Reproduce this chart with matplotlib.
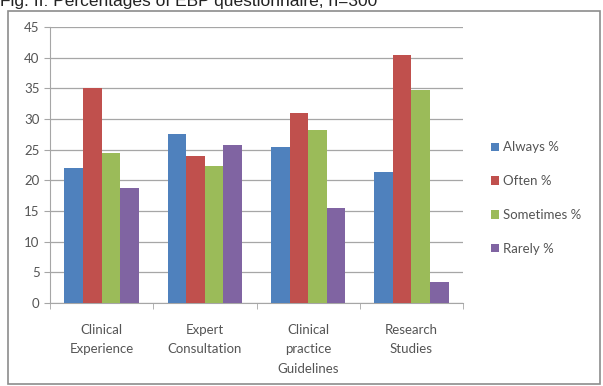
import numpy as np
import matplotlib
matplotlib.use("Agg")
import matplotlib.pyplot as plt
from matplotlib.patches import Rectangle

categories = ["Clinical\nExperience", "Expert\nConsultation", "Clinical\npractice\nGuidelines", "Research\nStudies"]
series = ["Always %", "Often %", "Sometimes %", "Rarely %"]
always = [22.0, 27.6, 25.5, 21.3]
often = [35.0, 24.0, 31.0, 40.4]
sometimes = [24.5, 22.4, 28.2, 34.7]
rarely = [18.7, 25.7, 15.5, 3.4]
colors = ["#4F81BD", "#C0504D", "#9BBB59", "#8064A2"]

plt.rcParams["font.family"] = ["Lato", "DejaVu Sans"]

fig = plt.figure(figsize=(6.03, 3.86), dpi=100)
W, H = 603, 386

# outer chart border
fig.patches.append(Rectangle((8 / W, 1 - 384 / H), 592 / W, 373 / H,
                             transform=fig.transFigure, fill=False,
                             edgecolor="#8c8c8c", linewidth=1.2))

# caption, cropped at the top like in the source image
fig.text(0, 1 - 6 / H, "Fig. II: Percentages of EBP questionnaire, n=300",
         family="Liberation Sans", fontsize=12.5, color="#222222", va="baseline")

ax = fig.add_axes([50 / W, 1 - 303 / H, 413 / W, 276 / H])

x = np.arange(len(categories))
w = 0.18
for i, (vals, name) in enumerate(zip([always, often, sometimes, rarely], series)):
    ax.bar(x + (i - 1.5) * w, vals, width=w, color=colors[i], label=name, zorder=3)

ax.set_xlim(-0.5, len(categories) - 0.5)
ax.set_ylim(0, 45)
ax.set_yticks(range(0, 46, 5))
ax.yaxis.grid(True, color="#a6a6a6", linewidth=0.9, zorder=0)
ax.set_xticks(x)
ax.set_xticklabels(categories, fontsize=9.5, color="#555555", linespacing=1.75)
ax.set_xticks(np.arange(len(categories) + 1) - 0.5, minor=True)
ax.tick_params(axis="x", which="major", length=0, pad=15)
ax.tick_params(axis="x", which="minor", length=4, color="#a6a6a6")
ax.tick_params(axis="y", length=4, color="#a6a6a6", labelsize=9.5, labelcolor="#555555")
for s in ["top", "right"]:
    ax.spines[s].set_visible(False)
ax.spines["left"].set_color("#a6a6a6")
ax.spines["bottom"].set_color("#a6a6a6")

ax.legend(loc="center left", bbox_to_anchor=(1.04, 0.38), frameon=False,
          fontsize=9.5, labelcolor="#555555", handlelength=0.6, handleheight=0.6,
          handletextpad=0.3, labelspacing=1.65)

fig.savefig("out.png", dpi=100)
